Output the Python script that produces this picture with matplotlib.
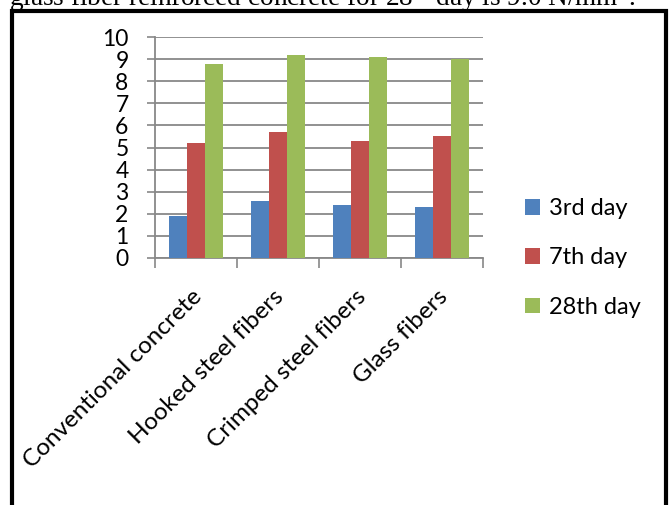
import numpy as np
import matplotlib.pyplot as plt
from matplotlib.patches import Rectangle

plt.rcParams['font.family'] = ['Lato', 'DejaVu Sans']
plt.rcParams['mathtext.fontset'] = 'stix'

# datos
categorias = ["Conventional concrete", "Hooked steel fibers",
              "Crimped steel fibers", "Glass fibers"]
series = ["3rd day", "7th day", "28th day"]
dia3 = [1.9, 2.6, 2.4, 2.3]
dia7 = [5.2, 5.7, 5.3, 5.5]
dia28 = [8.8, 9.2, 9.1, 9.0]
colores = ["#4F81BD", "#C0504D", "#9BBB59"]

fig = plt.figure(figsize=(6.71, 5.05), dpi=100)
ax = fig.add_axes([155 / 671, 1 - 258 / 505, 328 / 671, 221 / 505])

x = np.arange(len(categorias))
ancho = 0.22
for i, (vals, nombre) in enumerate(zip([dia3, dia7, dia28], series)):
    ax.bar(x + (i - 1) * ancho, vals, ancho, color=colores[i], label=nombre,
           zorder=3)

ax.set_xlim(-0.5, 3.5)
ax.set_ylim(0, 10)
ax.set_yticks(range(0, 11))
ax.tick_params(axis="y", labelsize=16.5, length=6, color="#888888",
               width=1.2, pad=13)
ax.grid(axis="y", color="#888888", linewidth=1.3, zorder=0)

# ticks en los limites de categoria
ax.set_xticks(np.arange(-0.5, 4, 1))
ax.set_xticklabels([])
ax.tick_params(axis="x", length=7, color="#888888", width=1.2)
ax.set_xticks(x - 0.06, minor=True)
ax.set_xticklabels(categorias, minor=True, rotation=45, ha="right",
                   va="top", rotation_mode="anchor", fontsize=17.5)
ax.tick_params(axis="x", which="minor", length=0, pad=20)

for lado in ["top", "right"]:
    ax.spines[lado].set_visible(False)
ax.spines["left"].set_color("#888888")
ax.spines["bottom"].set_color("#888888")
ax.spines["left"].set_linewidth(1.3)
ax.spines["bottom"].set_linewidth(1.3)

fig.legend(loc="center left", bbox_to_anchor=(525 / 671, 1 - 258 / 505),
           frameon=False, fontsize=17, handlelength=0.65, handleheight=0.65,
           handletextpad=0.35, labelspacing=1.2, borderpad=0,
           borderaxespad=0)

# texto cortado arriba y marco
fig.text(9 / 671, 1 - 7 / 505,
         "glass fiber reinforced concrete for 28$^{th}$ day is 9.0 N/mm$^{2}$.",
         family="Liberation Serif", fontsize=19.6, va="baseline", ha="left")
fig.patches.append(Rectangle((12 / 671, -0.05), 654 / 671, 1.05 - 11 / 505,
                             transform=fig.transFigure, fill=False,
                             edgecolor="black", linewidth=3))

plt.savefig("out.png", dpi=100)
plt.close()
